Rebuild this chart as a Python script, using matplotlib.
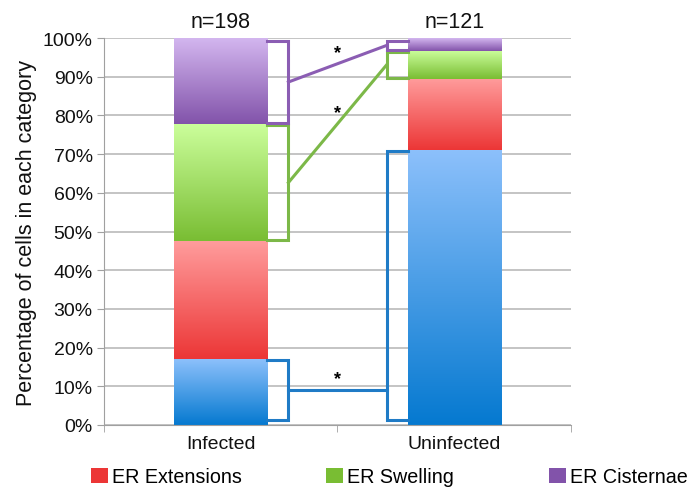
import numpy as np
import matplotlib
matplotlib.use("Agg")
import matplotlib.pyplot as plt
from matplotlib.colors import LinearSegmentedColormap
from matplotlib.patches import Patch

plt.rcParams['font.family'] = ['Liberation Sans', 'DejaVu Sans']

groups = ["Infected", "Uninfected"]
counts = ["n=198", "n=121"]
categories = ["ER Normal", "ER Extensions", "ER Swelling", "ER Cisternae"]
infected = [17.0, 30.5, 30.3, 22.2]
uninfected = [71.0, 18.4, 7.3, 3.3]
# (top colour, bottom colour) of each gradient
grad_colors = [("#8cc0fb", "#0579d0"),
               ("#ff9c9c", "#ec3636"),
               ("#ccff9c", "#79bd33"),
               ("#d3b6ef", "#8253aa")]
line_colors = ["#1f7bc6", "#e04444", "#7cb848", "#8b5db3"]
# categories with a significance bracket
marked = [0, 2, 3]

fig = plt.figure(figsize=(6.88, 4.89), dpi=100)
ax = fig.add_axes([0.151, 0.129, 0.679, 0.791])

x = np.arange(len(groups))
width = 0.40
data = np.array([infected, uninfected])
bottoms = np.zeros(len(groups))
segs = {}
for i, cat in enumerate(categories):
    bars = ax.bar(x, data[:, i], width, bottom=bottoms, color="none", zorder=2)
    cmap = LinearSegmentedColormap.from_list(cat, [grad_colors[i][1], grad_colors[i][0]])
    grad = np.linspace(0, 1, 256).reshape(-1, 1)
    for j, b in enumerate(bars):
        x0, y0, w, h = b.get_x(), b.get_y(), b.get_width(), b.get_height()
        im = ax.imshow(grad, cmap=cmap, origin="lower", aspect="auto",
                       extent=[x0, x0 + w, y0, y0 + h], zorder=2)
        im.set_clip_path(b)
        segs[(j, i)] = (y0, y0 + h)
    bottoms = bottoms + data[:, i]

ax.set_xlim(-0.5, 1.5)
ax.set_ylim(0, 100)

# brackets and connectors
bx = [x[0] + 0.29, x[1] - 0.29]
for i in marked:
    c = line_colors[i]
    ranges = []
    for j in range(2):
        lo, hi = segs[(j, i)]
        lo = lo + (1.4 if lo < 0.5 else 0.3)
        hi = hi - (0.8 if hi > 99.5 else 0.3)
        edge = x[j] + width / 2 if j == 0 else x[j] - width / 2
        ax.plot([edge, bx[j], bx[j], edge], [hi, hi, lo, lo], color=c, lw=2.2,
                solid_joinstyle="miter", zorder=3, clip_on=False)
        ranges.append((lo, hi))
    y1 = (ranges[0][0] + ranges[0][1]) / 2
    if ranges[1][0] <= y1 <= ranges[1][1]:
        y2 = y1
    else:
        y2 = (ranges[1][0] + ranges[1][1]) / 2
    ax.plot([bx[0], bx[1]], [y1, y2], color=c, lw=2.2, zorder=3)
    ax.text(0.5, (y1 + y2) / 2 + 2.8, "*", ha="center", va="center",
            fontsize=13, fontweight="bold", color="black")

for j, n in enumerate(counts):
    ax.text(x[j], 101.5, n, ha="center", va="bottom", fontsize=15.5, color="#111111")

ax.set_yticks(np.arange(0, 101, 10))
ax.set_yticklabels([f"{v}%" for v in range(0, 101, 10)], fontsize=14, color="#111111")
ax.set_xticks(x)
ax.set_xticklabels(groups, fontsize=14, color="#111111")
ax.set_xticks([-0.5, 0.5, 1.5], minor=True)
ax.tick_params(axis="x", which="major", length=0, pad=7)
ax.tick_params(axis="x", which="minor", length=5, color="#a0a0a0")
ax.tick_params(axis="y", length=5, color="#a0a0a0", pad=3)
ax.yaxis.grid(True, color="#b4b4b4", lw=1.1, zorder=0)
ax.set_axisbelow(True)
for s in ["top", "right"]:
    ax.spines[s].set_visible(False)
ax.spines["left"].set_color("#a0a0a0")
ax.spines["bottom"].set_color("#a0a0a0")
ax.set_ylabel("Percentage of cells in each category", fontsize=15.5, labelpad=4,
              color="#111111")

# legend, one entry per slot
legend_x = [91, 326, 549]
for k, i in enumerate((1, 2, 3)):
    h = Patch(facecolor=grad_colors[i][1], edgecolor="none")
    fig.legend([h], [categories[i]], loc="center left",
               bbox_to_anchor=(legend_x[k] / 688, 0.0225), frameon=False,
               fontsize=14.2, handlelength=0.85, handleheight=0.8,
               handletextpad=0.2, borderpad=0, borderaxespad=0)

fig.savefig("out.png", dpi=100)
